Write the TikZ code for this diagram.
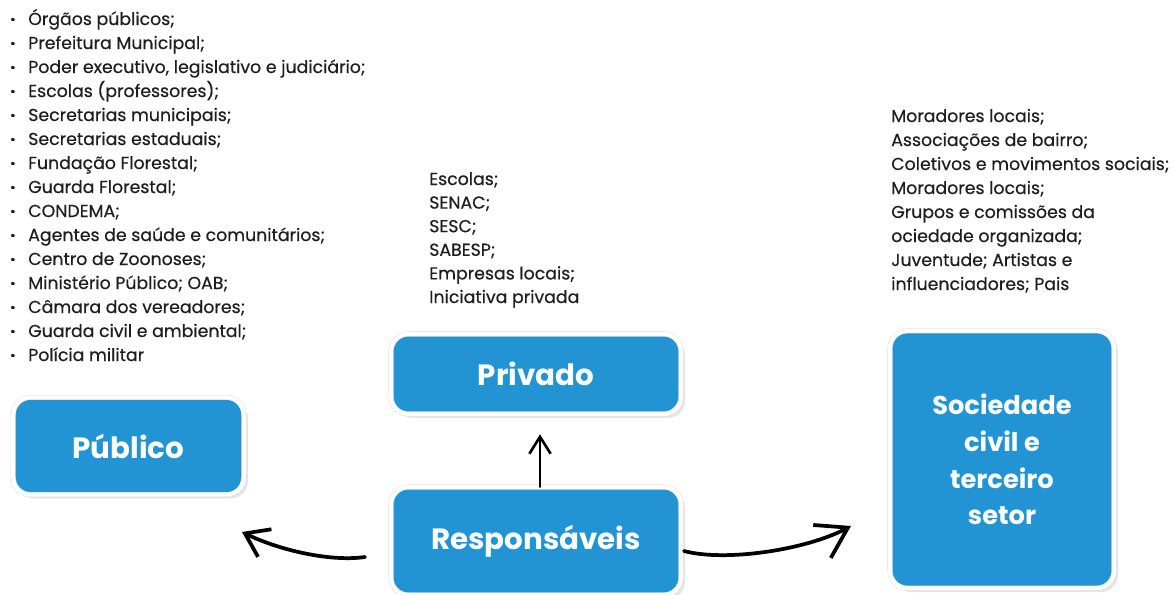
\documentclass[tikz,border=0pt]{standalone}
\usepackage{fontspec}
\setmainfont{Poppins}[FakeBold=0.45]
\newfontfamily\titlefont{Poppins}
\usetikzlibrary{arrows.meta}
\usetikzlibrary{shadows}

\definecolor{boxblue}{RGB}{34,147,211}
\definecolor{listgray}{RGB}{30,30,30}
\newcommand{\pitem}[1]{\makebox[13.5pt][l]{\bfseries ·}#1}

\begin{document}
\begin{tikzpicture}[x=0.75pt,y=-0.75pt]
\useasboundingbox (0,0) rectangle (1174,594);

\begin{scope}[every node/.style={rectangle,rounded corners=13pt,fill=boxblue,
              draw=black!12,line width=0.4pt,double=white,double distance=3pt,
              drop shadow={shadow xshift=3pt,shadow yshift=-3pt,fill=black!20},
              text=white,align=center,inner sep=0pt,
              font=\titlefont\bfseries\fontsize{22}{28}\selectfont}]
    \node [minimum width=173pt,minimum height=73pt] (pub) at (128.5,446) {Público};
    \node [minimum width=217.5pt,minimum height=60pt] (priv) at (536,374) {Privado};
    \node [minimum width=217.5pt,minimum height=81pt] (resp) at (536,541) {Responsáveis};
    \node [minimum width=168pt,minimum height=193pt,
           font=\titlefont\bfseries\fontsize{19.3}{27.5}\selectfont] (soc) at (1002,459.5)
          {Sociedade\\civil e\\terceiro\\setor};
\end{scope}

% listas (ancoradas na linha de base da ultima linha)
\begin{scope}[every node/.style={text=listgray,align=left,inner sep=0pt,
              font=\fontsize{13}{18}\selectfont}]
    \node [anchor=base west] (publist) at (10,361) {\pitem{Órgãos públicos;}\\
        \pitem{Prefeitura Municipal;}\\
        \pitem{Poder executivo, legislativo e judiciário;}\\
        \pitem{Escolas (professores);}\\
        \pitem{Secretarias municipais;}\\
        \pitem{Secretarias estaduais;}\\
        \pitem{Fundação Florestal;}\\
        \pitem{Guarda Florestal;}\\
        \pitem{CONDEMA;}\\
        \pitem{Agentes de saúde e comunitários;}\\
        \pitem{Centro de Zoonoses;}\\
        \pitem{Ministério Público; OAB;}\\
        \pitem{Câmara dos vereadores;}\\
        \pitem{Guarda civil e ambiental;}\\
        \pitem{Polícia militar}};
    \node [anchor=base west,font=\fontsize{13}{17.7}\selectfont] (privlist) at (429,303)
          {Escolas;\\SENAC;\\SESC;\\SABESP;\\Empresas locais;\\Iniciativa privada};
    \node [anchor=base west] (soclist) at (891,290)
          {Moradores locais;\\Associações de bairro;\\Coletivos e movimentos sociais;\\
           Moradores locais;\\Grupos e comissões da\\ociedade organizada;\\
           Juventude; Artistas e\\influenciadores; Pais};
\end{scope}

% setas
\coordinate (lstart) at (365,557);
\coordinate (lend) at (242,532);
\coordinate (rstart) at (684,551);
\coordinate (rend) at (851,526);

\begin{scope}[line cap=round]
    \draw [-{Straight Barb[length=12.75pt,width=16pt]},line width=2pt]
          ([xshift=3pt]resp.north) -- ([xshift=3pt,yshift=-15pt]priv.south);
    \draw [-{Straight Barb[length=16.5pt,width=23pt]},line width=2.8pt]
          (lstart) .. controls (330,562) and (279,550) .. (lend);
    \draw [-{Straight Barb[length=22pt,width=28pt]},line width=2.8pt]
          (rstart) .. controls (725,562) and (806,550) .. (rend);
\end{scope}
\end{tikzpicture}
\end{document}
